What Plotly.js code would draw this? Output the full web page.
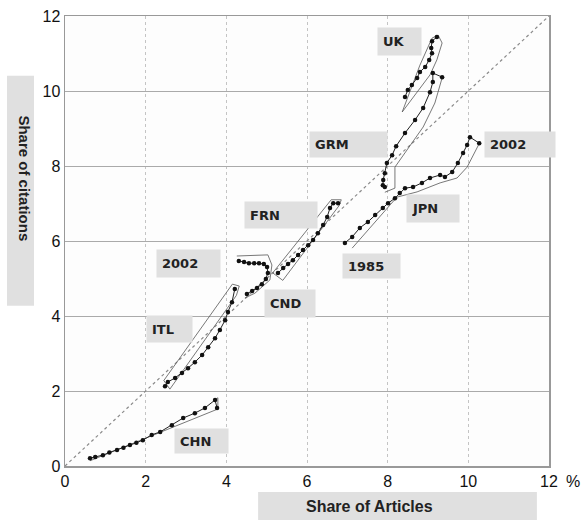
<!DOCTYPE html>
<html>
<head>
<meta charset="utf-8">
<script src="https://cdn.plot.ly/plotly-3.0.1.min.js"></script>
<style>html,body{margin:0;padding:0;background:#fff;}#chart{width:583px;height:520px;}</style>
</head>
<body>
<div id="chart"></div>
<script>
// ---- data ----
const ukX = [8.43, 8.50, 8.60, 8.73, 8.80, 8.93, 9.03, 9.10, 9.08, 9.10, 9.22];
const ukY = [9.84, 10.03, 10.16, 10.35, 10.51, 10.64, 10.83, 11.01, 11.15, 11.33, 11.44];
const grmX = [7.93, 7.88, 7.89, 7.93, 7.98, 8.11, 8.21, 8.43, 8.68, 8.88, 9.05, 9.12, 9.12, 9.35];
const grmY = [7.44, 7.49, 7.63, 7.81, 8.08, 8.29, 8.53, 8.88, 9.23, 9.55, 9.97, 10.24, 10.48, 10.37];
const jpnX = [6.94, 7.12, 7.31, 7.51, 7.69, 7.88, 8.01, 8.18, 8.30, 8.43, 8.63, 8.85, 9.05, 9.30, 9.42, 9.60, 9.74, 9.87, 9.97, 10.04, 10.27];
const jpnY = [5.95, 6.11, 6.35, 6.51, 6.69, 6.88, 7.01, 7.14, 7.28, 7.41, 7.44, 7.55, 7.68, 7.76, 7.71, 7.84, 8.08, 8.35, 8.56, 8.77, 8.61];
const frnX = [5.28, 5.41, 5.53, 5.65, 5.78, 5.90, 6.03, 6.15, 6.27, 6.40, 6.50, 6.57, 6.65, 6.77];
const frnY = [5.15, 5.28, 5.39, 5.49, 5.63, 5.76, 5.89, 6.03, 6.21, 6.43, 6.64, 6.88, 7.01, 7.01];
const cndX = [4.51, 4.64, 4.76, 4.88, 4.98, 5.03, 5.01, 4.93, 4.81, 4.69, 4.56, 4.44, 4.31];
const cndY = [4.59, 4.67, 4.75, 4.85, 4.99, 5.15, 5.31, 5.39, 5.41, 5.41, 5.41, 5.44, 5.47];
const itlX = [2.48, 2.55, 2.73, 2.90, 3.05, 3.22, 3.40, 3.55, 3.72, 3.84, 3.97, 4.04, 4.14, 4.21];
const itlY = [2.13, 2.24, 2.35, 2.48, 2.61, 2.77, 2.96, 3.17, 3.41, 3.63, 3.89, 4.11, 4.37, 4.72];
const chnX = [0.62, 0.75, 0.94, 1.10, 1.29, 1.45, 1.61, 1.77, 1.93, 2.15, 2.36, 2.65, 2.93, 3.22, 3.47, 3.72, 3.77];
const chnY = [0.21, 0.24, 0.29, 0.36, 0.43, 0.49, 0.56, 0.62, 0.69, 0.83, 0.91, 1.09, 1.28, 1.41, 1.55, 1.76, 1.55];

// outline (envelope) polylines drawn around each trajectory
const ukEnvX = [8.36, 8.80, 9.10, 9.25, 9.35, 9.22, 9.05, 8.63, 8.36];
const ukEnvY = [9.44, 10.69, 11.41, 11.49, 11.28, 10.83, 10.43, 9.84, 9.44];
const grmEnvX = [9.35, 9.17, 8.88, 8.48, 8.18, 8.18, 7.93];
const grmEnvY = [10.35, 9.68, 9.04, 8.43, 7.97, 7.41, 7.30];
const jpnEnvX = [7.12, 8.23, 8.73, 9.30, 9.72, 9.97, 10.29];
const jpnEnvY = [5.81, 7.17, 7.31, 7.55, 7.68, 7.97, 8.64];
const frnEnvX = [5.15, 6.60, 6.85, 6.80, 5.40, 5.15];
const frnEnvY = [5.15, 7.10, 7.10, 6.95, 4.95, 5.15];
const cndEnvX = [4.26, 5.03, 5.13, 5.08, 4.71, 4.46];
const cndEnvY = [5.60, 5.63, 5.36, 4.96, 4.61, 4.48];
const itlEnvX = [2.45, 4.15, 4.32, 4.25, 2.60, 2.45];
const itlEnvY = [2.28, 4.85, 4.80, 4.55, 2.05, 2.28];
const chnEnvX = [0.62, 3.79, 3.79, 3.72];
const chnEnvY = [0.14, 1.52, 1.82, 1.76];

// diagonal reference (citations share = articles share)
const diagX = [0, 12];
const diagY = [0, 12];

// axis ticks
const tickVals = [0, 2, 4, 6, 8, 10, 12];
const xTickText = ['0', '2', '4', '6', '8', '10', '12'];

// labels
const labelText = ['UK', 'GRM', '2002', 'JPN', '1985', 'FRN', '2002', 'CND', 'ITL', 'CHN'];

// ---- traces ----
const series = [[ukX, ukY], [grmX, grmY], [jpnX, jpnY], [frnX, frnY], [cndX, cndY], [itlX, itlY], [chnX, chnY]];
const envs = [[ukEnvX, ukEnvY], [grmEnvX, grmEnvY], [jpnEnvX, jpnEnvY], [frnEnvX, frnEnvY], [cndEnvX, cndEnvY], [itlEnvX, itlEnvY], [chnEnvX, chnEnvY]];

const traces = [];
traces.push({x: diagX, y: diagY, mode: 'lines', line: {color: '#8a8a8a', width: 1.2, dash: 'dot'}, hoverinfo: 'skip'});
envs.forEach(e => traces.push({x: e[0], y: e[1], mode: 'lines', line: {color: '#555', width: 0.8}, hoverinfo: 'skip'}));
series.forEach(s => traces.push({x: s[0], y: s[1], mode: 'lines+markers', line: {color: '#222', width: 1}, marker: {color: '#111', size: 4.5}}));

// label boxes [x center, y center (data units), box width px, box height px]
const labelPos = [
  [8.29, 11.32, 43, 27],
  [7.03, 8.57, 77, 25],
  [11.28, 8.57, 70, 25],
  [9.12, 6.87, 52, 27],
  [7.60, 5.33, 57, 24],
  [5.36, 6.69, 72, 26],
  [3.06, 5.40, 63, 27],
  [5.58, 4.33, 50, 27],
  [2.59, 3.65, 45, 26],
  [3.38, 0.67, 53, 24]
];
const pad = 5;

const annotations = labelText.map((t, i) => ({
  x: labelPos[i][0], y: labelPos[i][1], xref: 'x', yref: 'y',
  xanchor: 'center', yanchor: 'middle',
  text: '<b>' + t + '</b>', showarrow: false,
  bgcolor: '#e0e0e0', width: labelPos[i][2] - 2 * pad, height: labelPos[i][3] - 2 * pad,
  borderpad: pad, align: 'left', valign: 'middle',
  font: {family: 'DejaVu Sans, sans-serif', size: 13, color: '#222'}
}));

// axis titles
annotations.push({
  x: -0.0826, y: 0.639, xref: 'paper', yref: 'paper', showarrow: false,
  xanchor: 'center', yanchor: 'middle',
  text: '<b>Share of citations</b>', textangle: 90,
  font: {family: 'Liberation Sans, Arial, sans-serif', size: 15, color: '#222'}
});
annotations.push({
  x: 0.630, y: -0.091, xref: 'paper', yref: 'paper', showarrow: false,
  xanchor: 'center', yanchor: 'middle',
  text: '<b>Share of Articles</b>',
  font: {family: 'Liberation Sans, Arial, sans-serif', size: 16, color: '#222'}
});
annotations.push({
  x: 1.0496, y: -0.0345, xref: 'paper', yref: 'paper', showarrow: false,
  xanchor: 'center', yanchor: 'middle',
  text: '%', font: {family: 'Liberation Sans, Arial, sans-serif', size: 16, color: '#111'}
});

const shapes = [
  {type: 'rect', xref: 'paper', yref: 'paper', x0: -0.1198, x1: -0.064, y0: 0.356, y1: 0.867,
   fillcolor: '#e0e0e0', line: {width: 0}, layer: 'below'},
  {type: 'rect', xref: 'paper', yref: 'paper', x0: 0.399, x1: 0.975, y0: -0.12, y1: -0.0578,
   fillcolor: '#e0e0e0', line: {width: 0}, layer: 'below'}
];

const layout = {
  width: 583, height: 520,
  margin: {l: 65, r: 34, t: 16, b: 54},
  paper_bgcolor: '#ffffff', plot_bgcolor: '#fdfdfd',
  showlegend: false,
  font: {family: 'Liberation Sans, Arial, sans-serif', color: '#111'},
  xaxis: {
    range: [0, 12], tickmode: 'array', tickvals: tickVals, ticktext: xTickText,
    showgrid: true, gridcolor: '#c4c4c4', griddash: 'dot', gridwidth: 1,
    zeroline: false, showline: true, mirror: true, linecolor: '#999', linewidth: 1.5,
    ticks: '', tickfont: {size: 16, color: '#111'}
  },
  yaxis: {
    range: [0, 12], tickmode: 'array', tickvals: tickVals,
    showgrid: true, gridcolor: '#aaaaaa', gridwidth: 1,
    zeroline: false, showline: true, mirror: true, linecolor: '#999', linewidth: 1.5,
    ticks: '', tickfont: {size: 16, color: '#111'}
  },
  annotations: annotations,
  shapes: shapes
};

Plotly.newPlot('chart', traces, layout, {displayModeBar: false, staticPlot: true});
</script>
</body>
</html>
